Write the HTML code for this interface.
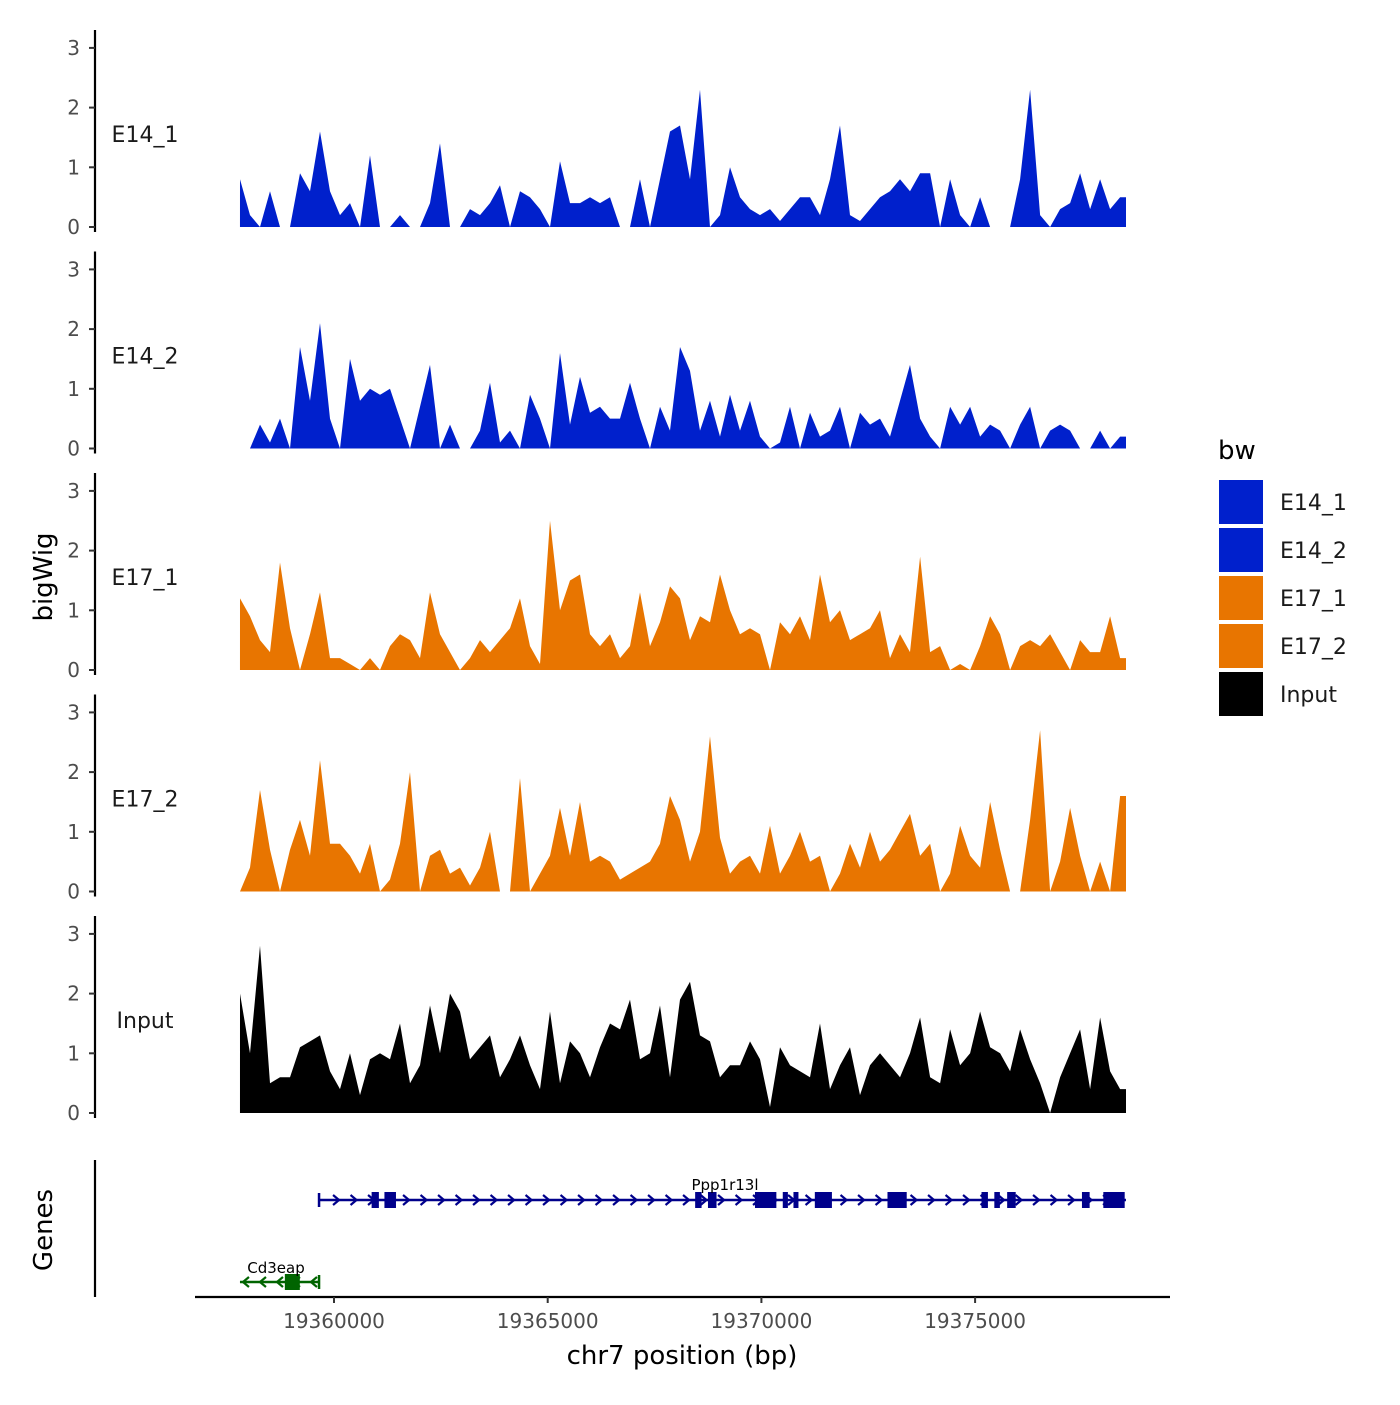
<!DOCTYPE html>
<html><head><meta charset="utf-8"><style>
body{margin:0;background:#fff;}
svg text{font-family:"DejaVu Sans","Liberation Sans",sans-serif;}
</style></head><body>
<svg id="c" width="1400" height="1400" xmlns="http://www.w3.org/2000/svg"></svg>
<script>
const trackNames = ["E14_1","E14_2","E17_1","E17_2","Input"];
const trackColors = ["#0020CC","#0020CC","#E87500","#E87500","#000000"];
const startBp = 19357800;
const stepBp = 234;
const e14_1 = [0.8,0.2,0,0.6,0,0,0.9,0.6,1.6,0.6,0.2,0.4,0,1.2,0,0,0.2,0,0,0.4,1.4,0,0,0.3,0.2,0.4,0.7,0,0.6,0.5,0.3,0,1.1,0.4,0.4,0.5,0.4,0.5,0,0,0.8,0,0.8,1.6,1.7,0.8,2.3,0,0.2,1.0,0.5,0.3,0.2,0.3,0.1,0.3,0.5,0.5,0.2,0.8,1.7,0.2,0.1,0.3,0.5,0.6,0.8,0.6,0.9,0.9,0,0.8,0.2,0,0.5,0,0,0,0.8,2.3,0.2,0,0.3,0.4,0.9,0.3,0.8,0.3,0.5];
const e14_2 = [0,0,0.4,0.1,0.5,0,1.7,0.8,2.1,0.5,0,1.5,0.8,1.0,0.9,1.0,0.5,0,0.7,1.4,0,0.4,0,0,0.3,1.1,0.1,0.3,0,0.9,0.5,0,1.6,0.4,1.2,0.6,0.7,0.5,0.5,1.1,0.5,0,0.7,0.3,1.7,1.3,0.3,0.8,0.2,0.9,0.3,0.8,0.2,0,0.1,0.7,0,0.6,0.2,0.3,0.7,0,0.6,0.4,0.5,0.2,0.8,1.4,0.5,0.2,0,0.7,0.4,0.7,0.2,0.4,0.3,0,0.4,0.7,0,0.3,0.4,0.3,0,0,0.3,0,0.2];
const e17_1 = [1.2,0.9,0.5,0.3,1.8,0.7,0,0.6,1.3,0.2,0.2,0.1,0,0.2,0,0.4,0.6,0.5,0.2,1.3,0.6,0.3,0,0.2,0.5,0.3,0.5,0.7,1.2,0.4,0.1,2.5,1.0,1.5,1.6,0.6,0.4,0.6,0.2,0.4,1.3,0.4,0.8,1.4,1.2,0.5,0.9,0.8,1.6,1.0,0.6,0.7,0.6,0,0.8,0.6,0.9,0.5,1.6,0.8,1.0,0.5,0.6,0.7,1.0,0.2,0.6,0.3,1.9,0.3,0.4,0,0.1,0,0.4,0.9,0.6,0,0.4,0.5,0.4,0.6,0.3,0,0.5,0.3,0.3,0.9,0.2];
const e17_2 = [0,0.4,1.7,0.7,0,0.7,1.2,0.6,2.2,0.8,0.8,0.6,0.3,0.8,0,0.2,0.8,2.0,0,0.6,0.7,0.3,0.4,0.1,0.4,1.0,0,0,1.9,0,0.3,0.6,1.4,0.6,1.5,0.5,0.6,0.5,0.2,0.3,0.4,0.5,0.8,1.6,1.2,0.5,1.0,2.6,0.9,0.3,0.5,0.6,0.3,1.1,0.3,0.6,1.0,0.5,0.6,0,0.3,0.8,0.4,1.0,0.5,0.7,1.0,1.3,0.6,0.8,0,0.3,1.1,0.6,0.4,1.5,0.7,0,0,1.2,2.7,0,0.5,1.4,0.6,0,0.5,0,1.6];
const inputVals = [2.0,1.0,2.8,0.5,0.6,0.6,1.1,1.2,1.3,0.7,0.4,1.0,0.3,0.9,1.0,0.9,1.5,0.5,0.8,1.8,1.0,2.0,1.7,0.9,1.1,1.3,0.6,0.9,1.3,0.8,0.4,1.7,0.5,1.2,1.0,0.6,1.1,1.5,1.4,1.9,0.9,1.0,1.8,0.6,1.9,2.2,1.3,1.2,0.6,0.8,0.8,1.2,0.9,0.1,1.1,0.8,0.7,0.6,1.5,0.4,0.8,1.1,0.3,0.8,1.0,0.8,0.6,1.0,1.6,0.6,0.5,1.4,0.8,1.0,1.7,1.1,1.0,0.7,1.4,0.9,0.5,0,0.6,1.0,1.4,0.4,1.6,0.7,0.4];
const yTicks = [0,1,2,3];
const xTicks = [19360000,19365000,19370000,19375000];
const xTickLabels = ["19360000","19365000","19370000","19375000"];
const geneExons = [[19360880,19361050],[19361180,19361450],[19368450,19368600],[19368750,19368950],[19369850,19370350],[19370500,19370620],[19370750,19370850],[19371250,19371650],[19372950,19373400],[19375150,19375300],[19375450,19375580],[19375750,19375950],[19377500,19377680],[19378000,19378500]];
const geneStart = 19359650, geneEnd = 19378530;
const cdStart = 19357800, cdEnd = 19359650, cdExon=[19358850,19359200];

const svg = document.getElementById('c');
const NS='http://www.w3.org/2000/svg';
function el(tag, attrs, parent){const e=document.createElementNS(NS,tag);for(const k in attrs)e.setAttribute(k,attrs[k]);(parent||svg).appendChild(e);return e;}
function xs(bp){return 334 + (bp-19360000)*(213.7/5000);}
const trackVals=[e14_1,e14_2,e17_1,e17_2,inputVals];
for(let t=0;t<5;t++){
  const base = 227 + t*221.5;
  const ys = v => base - v*59.7;
  const g = el('g',{});
  
  
  const vals = trackVals[t];
  let d = 'M'+xs(startBp)+','+base;
  vals.forEach((v,i)=>{d+=' L'+xs(startBp+i*stepBp).toFixed(1)+','+ys(v).toFixed(1);});
  const lastX = Math.min(xs(startBp+(vals.length-1)*stepBp)+6,1126);
  d+=' L'+lastX.toFixed(1)+','+ys(vals[vals.length-1]).toFixed(1)+' L'+lastX.toFixed(1)+','+base+' Z';
  const p = el('path',{d:d,fill:trackColors[t]},g);
  
  
  const ax = el('line',{x1:95,x2:95,y1:base-197,y2:base+5,stroke:'#000','stroke-width':2.2},g);
  
  
  yTicks.forEach(v=>{
    el('line',{x1:89,x2:95,y1:ys(v),y2:ys(v),stroke:'#333','stroke-width':2},g);
    const tx=el('text',{x:80,y:ys(v)+7,'text-anchor':'end','font-size':20,fill:'#4d4d4d'},g);
    tx.textContent=v;
    
    
  });
  const lab=el('text',{x:145,y:base-85,'text-anchor':'middle','font-size':22,fill:'#1a1a1a'},g);
  lab.textContent=trackNames[t];
  
  
}
// y titles
let t1=el('text',{x:0,y:0,'font-size':26,'text-anchor':'middle',transform:'translate(52,577) rotate(-90)'});
t1.textContent='bigWig';


let t2=el('text',{x:0,y:0,'font-size':26,'text-anchor':'middle',transform:'translate(52,1230) rotate(-90)'});
t2.textContent='Genes';


// genes panel axes
let gl=el('line',{x1:95,x2:95,y1:1160,y2:1297,stroke:'#000','stroke-width':2.2});


let xl=el('line',{x1:195,x2:1170,y1:1297,y2:1297,stroke:'#000','stroke-width':2.2});


xTicks.forEach((b,i)=>{
  el('line',{x1:xs(b),x2:xs(b),y1:1297,y2:1303,stroke:'#333','stroke-width':2});
  const tx=el('text',{x:xs(b),y:1328,'text-anchor':'middle','font-size':20,fill:'#4d4d4d'});
  tx.textContent=xTickLabels[i];
  
  
});
let xt=el('text',{x:682,y:1364,'text-anchor':'middle','font-size':26});
xt.textContent='chr7 position (bp)';


// gene Ppp1r13l
const gg=el('g',{});


const gy=1200, navy='#00008B';
el('line',{x1:xs(geneStart),x2:xs(geneEnd),y1:gy,y2:gy,stroke:navy,'stroke-width':2.5},gg);
el('line',{x1:xs(geneStart),x2:xs(geneStart),y1:gy-7,y2:gy+7,stroke:navy,'stroke-width':2.5},gg);
for(let x=xs(geneStart)+18;x<xs(geneEnd)-5;x+=17.5){
  el('polyline',{points:(x-4)+','+(gy-5)+' '+(x+2)+','+gy+' '+(x-4)+','+(gy+5),fill:'none',stroke:navy,'stroke-width':2.2},gg);
}
geneExons.forEach(e=>{
  const h=(e[1]-e[0])>250?16:16;
  el('rect',{x:xs(e[0]),y:gy-h/2,width:Math.max(xs(e[1])-xs(e[0]),5),height:h,fill:navy},gg);
});
let gt=el('text',{x:725,y:1190,'text-anchor':'middle','font-size':15},gg);
gt.textContent='Ppp1r13l';
// Cd3eap
const cg=el('g',{});


const cy=1282, green='#006400';
el('line',{x1:xs(cdStart),x2:xs(cdEnd),y1:cy,y2:cy,stroke:green,'stroke-width':2.5},cg);
el('line',{x1:xs(cdEnd),x2:xs(cdEnd),y1:cy-7,y2:cy+7,stroke:green,'stroke-width':2.5},cg);
for(let x=xs(cdStart)+4;x<xs(cdEnd)-3;x+=17){
  el('polyline',{points:(x+5)+','+(cy-5)+' '+(x-1)+','+cy+' '+(x+5)+','+(cy+5),fill:'none',stroke:green,'stroke-width':2.2},cg);
}
el('rect',{x:xs(cdExon[0]),y:cy-8,width:xs(cdExon[1])-xs(cdExon[0]),height:16,fill:green},cg);
let ct=el('text',{x:276,y:1273,'text-anchor':'middle','font-size':15},cg);
ct.textContent='Cd3eap';
// legend
const lg=el('g',{});


let lt=el('text',{x:1218,y:459,'font-size':26},lg);
lt.textContent='bw';
trackNames.forEach((n,i)=>{
  const r=el('rect',{x:1219,y:480+i*48,width:44,height:44,fill:trackColors[i]},lg);
  
  
  const tx=el('text',{x:1280,y:510+i*48,'font-size':22,fill:'#1a1a1a'},lg);
  tx.textContent=n;
  
  
});
</script>
</body></html>
